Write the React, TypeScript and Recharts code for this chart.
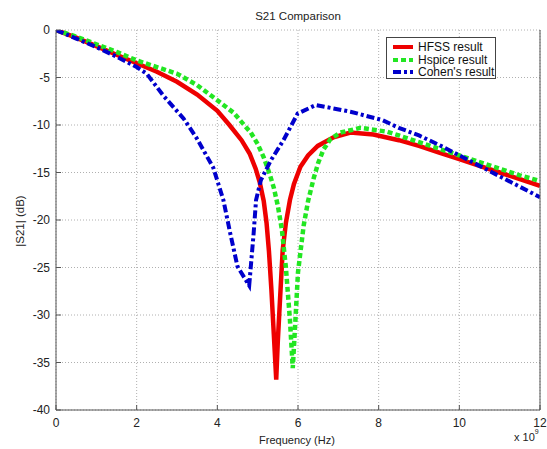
import React from 'react';
import { LineChart, Line, XAxis, YAxis, CartesianGrid } from 'recharts';

// frequency in GHz (axis shows x 10^9), magnitude in dB
const hfssFreq = [0, 0.5, 1, 1.5, 2, 2.5, 3, 3.5, 4, 4.3, 4.6, 4.8, 4.95, 5.05, 5.15, 5.22, 5.28, 5.34, 5.4, 5.46, 5.5, 5.55, 5.62, 5.7, 5.8, 5.9, 6.06, 6.25, 6.49, 6.88, 7.3, 7.87, 8.5, 9, 9.5, 10, 10.5, 11, 11.5, 12];
const hfssDb = [0, -0.8, -1.7, -2.6, -3.5, -4.4, -5.45, -6.8, -8.5, -10.0, -11.6, -13.0, -14.6, -16.0, -18.0, -20.3, -23.3, -27.3, -32, -36.8, -32.7, -28.7, -23.2, -20.3, -17.9, -16.2, -14.4, -13.2, -12.2, -11.3, -10.8, -11.0, -11.6, -12.2, -12.9, -13.6, -14.3, -15.0, -15.7, -16.4];

const hspiceFreq = [0, 0.5, 1, 1.5, 2, 2.5, 3, 3.5, 4, 4.4, 4.83, 5.0, 5.15, 5.3, 5.4, 5.5, 5.6, 5.7, 5.8, 5.87, 5.93, 6.0, 6.14, 6.25, 6.39, 6.5, 6.63, 6.8, 7.05, 7.55, 8.2, 8.5, 9, 9.5, 10, 10.5, 11, 11.5, 12];
const hspiceDb = [0, -0.7, -1.5, -2.3, -3.2, -3.9, -4.6, -5.8, -7.4, -8.7, -10.8, -12.0, -13.4, -15.2, -16.6, -18.5, -21, -25, -30.5, -35.6, -31, -25.5, -20.6, -18.0, -15.6, -14.0, -12.6, -11.5, -10.8, -10.3, -10.7, -11.1, -11.8, -12.5, -13.2, -13.9, -14.6, -15.3, -15.9];

const cohenFreq = [0, 0.5, 1, 1.5, 2, 2.25, 2.66, 3.16, 3.49, 3.9, 4.15, 4.32, 4.5, 4.79, 4.83, 4.9, 4.96, 5.08, 5.33, 5.64, 5.99, 6.44, 7.3, 8.1, 8.5, 9, 9.5, 10, 10.5, 11, 11.5, 12];
const cohenDb = [0, -0.9, -1.8, -2.8, -3.9, -4.6, -6.9, -9.3, -11.4, -14.5, -17.9, -21.4, -24.9, -26.9, -24.9, -21.4, -17.9, -15.8, -13.7, -11.6, -8.8, -7.9, -8.6, -9.5, -10.3, -11.1, -12.1, -13.2, -14.3, -15.4, -16.5, -17.6];

const seriesNames = ['HFSS result', 'Hspice result', "Cohen's result"];
const xTicks = [0, 2, 4, 6, 8, 10, 12];
const yTicks = [0, -5, -10, -15, -20, -25, -30, -35, -40];

const toPoints = (f: number[], d: number[]) => f.map((x, i) => ({ x, y: d[i] }));

const SERIES = [
  { name: seriesNames[0], data: toPoints(hfssFreq, hfssDb), color: '#ee0000', dash: undefined as string | undefined, width: 4.5 },
  { name: seriesNames[1], data: toPoints(hspiceFreq, hspiceDb), color: '#22e622', dash: '5 3', width: 4.5 },
  { name: seriesNames[2], data: toPoints(cohenFreq, cohenDb), color: '#0000cc', dash: '8 3 3 3', width: 4 },
];

const FONT = '"Liberation Sans", Arial, sans-serif';
const AXIS = '#555';
const tickStyle = { fontSize: 12, fill: '#222', fontFamily: FONT };
const blank = () => '';

// legend drawn as an overlay so it doesn't eat plot space
function LegendBox() {
  return (
    <div
      style={{
        position: 'absolute', left: 386, top: 37, width: 110, height: 42,
        border: '1px solid #444', background: '#fff', padding: '3px 5px',
        boxSizing: 'border-box', fontFamily: FONT,
      }}
    >
      {SERIES.map((s) => (
        <div key={s.name} style={{ display: 'flex', alignItems: 'center', height: 12.5, whiteSpace: 'nowrap' }}>
          <svg width={22} height={8} style={{ flex: 'none' }}>
            <line x1={1} y1={4} x2={21} y2={4} stroke={s.color} strokeWidth={4} strokeDasharray={s.dash} />
          </svg>
          <span style={{ marginLeft: 4, fontSize: 12, color: '#111', lineHeight: '12px' }}>{s.name}</span>
        </div>
      ))}
    </div>
  );
}

export default function App() {
  return (
    <div style={{ position: 'absolute', left: 0, top: 0, width: 547, height: 449, background: '#fff', fontFamily: FONT }}>
      <LineChart width={547} height={449} margin={{ top: 30, right: 0, bottom: 0, left: 0 }}>
        <CartesianGrid xAxisId="b" yAxisId="l" stroke="#b0b0b0" strokeDasharray="1 2" />
        <XAxis
          xAxisId="b"
          dataKey="x"
          type="number"
          domain={[0, 12]}
          ticks={xTicks}
          allowDataOverflow
          height={39}
          stroke={AXIS}
          tickSize={-5}
          tickMargin={13}
          tick={tickStyle}
        />
        <XAxis xAxisId="t" orientation="top" dataKey="x" type="number" domain={[0, 12]} ticks={xTicks} height={0} stroke={AXIS} tickSize={-5} tickFormatter={blank} />
        <YAxis
          yAxisId="l"
          type="number"
          domain={[-40, 0]}
          ticks={yTicks}
          allowDataOverflow
          width={56}
          stroke={AXIS}
          tickSize={-5}
          tickMargin={11}
          tick={tickStyle}
        />
        <YAxis yAxisId="r" orientation="right" type="number" domain={[-40, 0]} ticks={yTicks} width={7} stroke={AXIS} tickSize={-5} tickFormatter={blank} />
        {SERIES.map((s) => (
          <Line
            key={s.name}
            xAxisId="b"
            yAxisId="l"
            data={s.data}
            dataKey="y"
            name={s.name}
            type="linear"
            stroke={s.color}
            strokeWidth={s.width}
            strokeDasharray={s.dash}
            dot={false}
            activeDot={false}
            isAnimationActive={false}
          />
        ))}
      </LineChart>
      <LegendBox />
      <div style={{ position: 'absolute', left: 198, width: 200, top: 10, textAlign: 'center', fontSize: 11.5, color: '#222' }}>S21 Comparison</div>
      <div style={{ position: 'absolute', left: 197, width: 200, top: 434, textAlign: 'center', fontSize: 11, color: '#222' }}>Frequency (Hz)</div>
      <div style={{ position: 'absolute', left: 514, top: 431, fontSize: 11, color: '#222' }}>
        x 10<sup style={{ fontSize: 7, verticalAlign: 'top', position: 'relative', top: -3 }}>9</sup>
      </div>
      <div style={{ position: 'absolute', left: 20, top: 221, transform: 'translate(-50%, -50%) rotate(-90deg)', fontSize: 11.5, color: '#222', whiteSpace: 'nowrap' }}>|S21| (dB)</div>
    </div>
  );
}
